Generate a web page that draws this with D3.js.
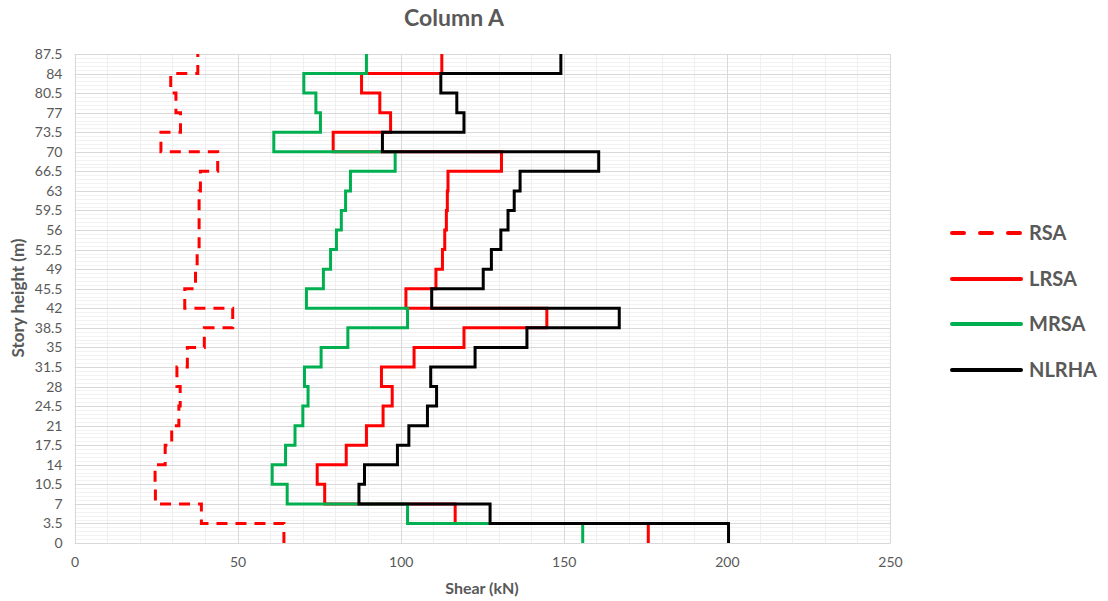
<!DOCTYPE html>
<html>
<head>
<meta charset="utf-8">
<script src="https://cdn.jsdelivr.net/npm/d3@7"></script>
<style>
  html, body { margin: 0; padding: 0; background: #fff; }
  svg { display: block; font-family: Lato, "Open Sans", sans-serif; }
</style>
</head>
<body>
<svg id="chart" width="1108" height="601"></svg>
<script>
// Story levels (m) — y tick labels
const levels = [0, 3.5, 7, 10.5, 14, 17.5, 21, 24.5, 28, 31.5, 35, 38.5, 42, 45.5, 49, 52.5, 56, 59.5, 63, 66.5, 70, 73.5, 77, 80.5, 84, 87.5];
// X tick labels (kN)
const shearTicks = [0, 50, 100, 150, 200, 250];

// Story shear per storey interval, bottom (0–3.5) to top (84–87.5)
const rsa   = [64.2, 38.9, 24.8, 24.7, 27.8, 29.8, 32.0, 32.4, 31.4, 34.6, 39.8, 48.5, 33.8, 37.1, 37.6, 38.2, 38.2, 38.2, 38.6, 43.9, 26.5, 32.5, 31.1, 29.5, 37.8];
const lrsa  = [175.9, 116.7, 76.7, 74.4, 83.3, 89.5, 94.6, 97.4, 94.1, 104.1, 119.4, 144.8, 101.6, 110.8, 112.8, 113.5, 114.0, 114.3, 114.5, 130.9, 79.3, 96.9, 93.6, 88.0, 112.6];
const mrsa  = [155.8, 102.1, 65.2, 60.6, 64.7, 67.6, 70.0, 71.6, 70.5, 75.6, 83.8, 102.1, 71.1, 76.3, 78.5, 80.3, 81.8, 83.1, 84.6, 98.3, 61.1, 75.4, 74.0, 70.3, 89.5];
const nlrha = [200.5, 127.4, 87.2, 88.9, 99.0, 102.5, 108.2, 111.0, 109.2, 122.8, 138.7, 167.0, 109.5, 125.3, 127.8, 130.7, 132.9, 134.8, 136.6, 160.7, 94.4, 119.4, 117.2, 112.3, 149.1];

const seriesNames  = ["RSA", "LRSA", "MRSA", "NLRHA"];
const seriesColors = ["#FF0000", "#FF0000", "#00B050", "#000000"];
const seriesDashed = [true, false, false, false];
const seriesValues = [rsa, lrsa, mrsa, nlrha];

const svg = d3.select("#chart");
const textColor = "#595959";

const x = d3.scaleLinear().domain([0, 250]).range([74.5, 890]);
const y = d3.scaleLinear().domain([0, 87.5]).range([543, 54]);

// Gridlines
const grid = svg.append("g");
// minor horizontal
const minorH = d3.range(0, 126).map(k => k * 0.7).filter((v, k) => k % 5 !== 0);
grid.selectAll(".mh").data(minorH).enter().append("line")
  .attr("x1", x(0)).attr("x2", x(250))
  .attr("y1", d => Math.round(y(d)) + 0.5).attr("y2", d => Math.round(y(d)) + 0.5)
  .attr("stroke", "#f2f2f2").attr("stroke-width", 1);
// minor vertical
const minorV = d3.range(0, 26).map(k => k * 10).filter(v => v % 50 !== 0);
grid.selectAll(".mv").data(minorV).enter().append("line")
  .attr("y1", y(0)).attr("y2", y(87.5))
  .attr("x1", d => Math.round(x(d)) + 0.5).attr("x2", d => Math.round(x(d)) + 0.5)
  .attr("stroke", "#efefef").attr("stroke-width", 1);
// major horizontal
grid.selectAll(".MH").data(levels).enter().append("line")
  .attr("x1", x(0)).attr("x2", x(250))
  .attr("y1", d => Math.round(y(d)) + 0.5).attr("y2", d => Math.round(y(d)) + 0.5)
  .attr("stroke", "#d9d9d9").attr("stroke-width", 1);
// major vertical
grid.selectAll(".MV").data(shearTicks).enter().append("line")
  .attr("y1", y(0)).attr("y2", y(87.5))
  .attr("x1", d => Math.round(x(d)) + 0.5).attr("x2", d => Math.round(x(d)) + 0.5)
  .attr("stroke", "#d9d9d9").attr("stroke-width", 1);

// Axes
const yAxis = d3.axisLeft(y).tickValues(levels).tickSize(0).tickPadding(12).tickFormat(d => String(d));
const gy = svg.append("g").attr("transform", `translate(${x(0)},0)`).call(yAxis);
gy.select(".domain").remove();
gy.selectAll("text").attr("fill", textColor).style("font-size", "14px").style("font-family", "Lato, sans-serif");

const xAxis = d3.axisBottom(x).tickValues(shearTicks).tickSize(0).tickPadding(14).tickFormat(d => String(d));
const gx = svg.append("g").attr("transform", `translate(0,${y(0)})`).call(xAxis);
gx.select(".domain").attr("stroke", "#d9d9d9");
gx.selectAll("text").attr("fill", textColor).style("font-size", "14px").style("font-family", "Lato, sans-serif");

// Series (step lines)
function stepPoints(vals) {
  const pts = [];
  vals.forEach((v, i) => {
    pts.push([v, levels[i]]);
    pts.push([v, levels[i + 1]]);
  });
  return pts;
}
const line = d3.line().x(d => x(d[0])).y(d => y(d[1]));

seriesValues.forEach((vals, i) => {
  svg.append("path")
    .attr("d", line(stepPoints(vals)))
    .attr("fill", "none")
    .attr("stroke", seriesColors[i])
    .attr("stroke-width", 3)
    .attr("stroke-linejoin", "miter")
    .attr("stroke-dasharray", seriesDashed[i] ? "11,8" : null);
});

// Title
svg.append("text").attr("x", 454).attr("y", 26).attr("text-anchor", "middle")
  .attr("fill", textColor).style("font-size", "23px").style("font-weight", "bold")
  .text("Column A");

// Axis titles
svg.append("text").attr("x", 482).attr("y", 594).attr("text-anchor", "middle")
  .attr("fill", textColor).style("font-size", "16px").style("font-weight", "bold")
  .text("Shear (kN)");
svg.append("text").attr("transform", "translate(24,298) rotate(-90)").attr("text-anchor", "middle")
  .attr("fill", textColor).style("font-size", "17px").style("font-weight", "bold")
  .text("Story height (m)");

// Legend
const legendY = [233, 279, 324, 370];
const lg = svg.append("g");
seriesNames.forEach((name, i) => {
  lg.append("line")
    .attr("x1", 952).attr("x2", 1021)
    .attr("y1", legendY[i]).attr("y2", legendY[i])
    .attr("stroke", seriesColors[i]).attr("stroke-width", 4)
    .attr("stroke-linecap", "round")
    .attr("stroke-dasharray", seriesDashed[i] ? "12,16" : null);
  lg.append("text")
    .attr("x", 1029).attr("y", legendY[i]).attr("dy", "0.35em")
    .attr("fill", textColor).style("font-size", "20px").style("font-weight", "bold")
    .text(name);
});
</script>
</body>
</html>
